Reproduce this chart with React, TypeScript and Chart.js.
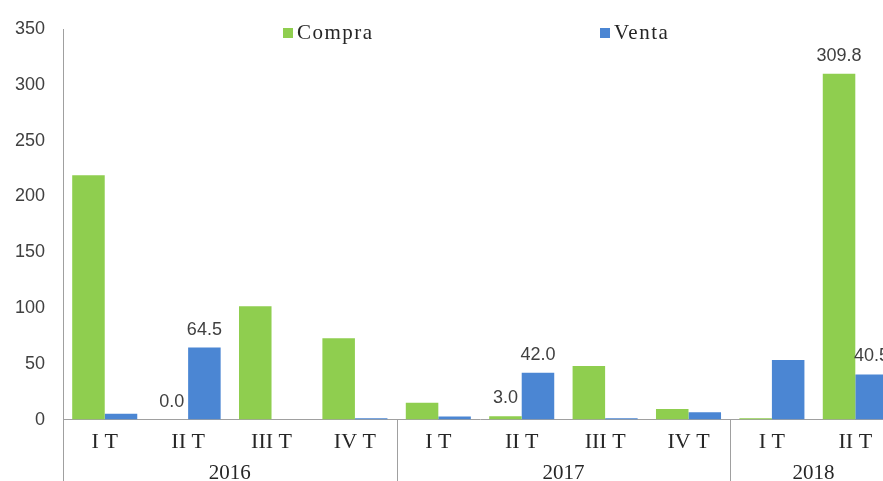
import React, { useEffect, useRef } from "react";
import { Chart, registerables } from "chart.js";

Chart.register(...registerables);

const quarters = ["I T", "II T", "III T", "IV T", "I T", "II T", "III T", "IV T", "I T", "II T"];
const years = ["2016", "2017", "2018"];
const yearSpans = [4, 4, 2];
const compra = [219, 0.04, 101.5, 73, 15, 3.0, 48, 9.6, 1.2, 309.8];
const venta = [5.3, 64.5, 0, 1.2, 2.7, 42.0, 1.2, 6.5, 53.5, 40.5];
const compraLabelIdx = [1, 5, 9];
const ventaLabelIdx = [1, 5, 9];
const yTicks = [0, 50, 100, 150, 200, 250, 300, 350];

const GREEN = "#8fce4f";
const BLUE = "#4b86d3";

const overlay = {
  id: "overlay",
  afterDraw(chart: any) {
    const ctx = chart.ctx;
    const x = chart.scales.x;
    const area = chart.chartArea;
    ctx.save();
    // data labels
    ctx.font = '18px "Liberation Sans", sans-serif';
    ctx.fillStyle = "#404040";
    ctx.textAlign = "center";
    ctx.textBaseline = "alphabetic";
    const drawLabels = (dsIndex: number, idxs: number[], values: number[]) => {
      const meta = chart.getDatasetMeta(dsIndex);
      idxs.forEach((i) => {
        const el = meta.data[i];
        ctx.fillText(values[i].toFixed(1), el.x, el.y - 13);
      });
    };
    drawLabels(0, compraLabelIdx, compra);
    drawLabels(1, ventaLabelIdx, venta);

    // year separators and labels
    ctx.strokeStyle = "#a0a0a0";
    ctx.lineWidth = 1;
    const bottom = chart.height;
    let start = 0;
    const half = (x.getPixelForValue(1) - x.getPixelForValue(0)) / 2;
    ctx.font = '21px "Liberation Serif", serif';
    ctx.fillStyle = "#262626";
    ctx.textBaseline = "middle";
    years.forEach((yr, k) => {
      const left = x.getPixelForValue(start) - half;
      const right = x.getPixelForValue(start + yearSpans[k] - 1) + half;
      ctx.beginPath();
      ctx.moveTo(Math.round(left) + 0.5, area.bottom);
      ctx.lineTo(Math.round(left) + 0.5, bottom);
      ctx.stroke();
      ctx.fillText(yr, (left + right) / 2, area.bottom + 54);
      start += yearSpans[k];
    });

    // legend
    ctx.font = '21px "Liberation Serif", serif';
    try { (ctx as any).letterSpacing = "1.5px"; } catch (e) {}
    ctx.textAlign = "left";
    ctx.textBaseline = "middle";
    const legend = [
      { label: "Compra", color: GREEN, x: 283 },
      { label: "Venta", color: BLUE, x: 600 },
    ];
    legend.forEach((l) => {
      ctx.fillStyle = l.color;
      ctx.fillRect(l.x, 28, 10, 10);
      ctx.fillStyle = "#262626";
      ctx.fillText(l.label, l.x + 14, 33);
    });
    ctx.restore();
  },
};

export default function App() {
  const ref = useRef<HTMLCanvasElement>(null);
  useEffect(() => {
    const chart = new Chart(ref.current!, {
      type: "bar",
      data: {
        labels: quarters,
        datasets: [
          { label: "Compra", data: compra, backgroundColor: GREEN, categoryPercentage: 0.78, barPercentage: 1 },
          { label: "Venta", data: venta, backgroundColor: BLUE, categoryPercentage: 0.78, barPercentage: 1 },
        ],
      },
      options: {
        responsive: false,
        animation: false,
        layout: { padding: { top: 29, right: 0, bottom: 25, left: 5 } },
        plugins: { legend: { display: false }, tooltip: { enabled: false } },
        scales: {
          x: {
            grid: { display: false },
            border: { display: true, color: "#a0a0a0" },
            ticks: {
              color: "#262626",
              font: { family: '"Liberation Serif", serif', size: 22 },
              padding: 1,
              maxRotation: 0,
              autoSkip: false,
            },
          },
          y: {
            min: 0,
            max: 350,
            afterBuildTicks: (axis: any) => {
              axis.ticks = yTicks.map((v) => ({ value: v }));
            },
            grid: { display: false },
            border: { display: true, color: "#a0a0a0" },
            ticks: {
              color: "#404040",
              font: { family: '"Liberation Sans", sans-serif', size: 18 },
              padding: 10,
            },
          },
        },
      },
      plugins: [overlay],
    });
    return () => chart.destroy();
  }, []);
  return (
    <div style={{ position: "fixed", left: 0, top: 0, width: 883, height: 481, overflow: "hidden", background: "#fff" }}>
      <canvas ref={ref} width={897} height={481} style={{ display: "block" }} />
    </div>
  );
}
